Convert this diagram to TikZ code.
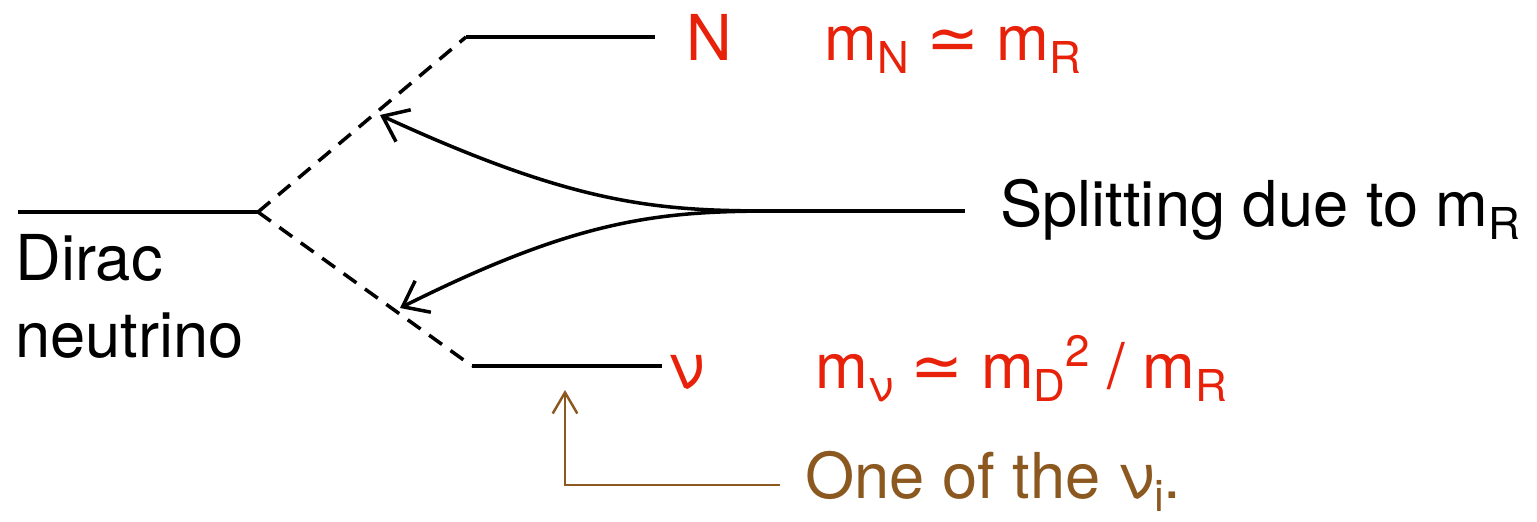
\documentclass[tikz,border=0pt]{standalone}
\usepackage{fontspec}
\setmainfont{TeX Gyre Heros}
\newfontfamily\symfont{DejaVu Sans}
\usetikzlibrary{arrows.meta}
\definecolor{myred}{RGB}{232,34,10}
\definecolor{mybrown}{RGB}{139,88,32}
\newcommand\lsub[1]{\raisebox{-7.5pt}{\fontsize{25}{25}\selectfont #1}}
\newcommand\lsup[1]{\raisebox{12pt}{\fontsize{25}{25}\selectfont #1}}
\newcommand\simeqsym{{\symfont ≃}}
\begin{document}
\begin{tikzpicture}[x=0.02cm,y=-0.02cm,
  lvl/.style={line width=2pt},
  split/.style={line width=2pt, dashed, dash pattern=on 9pt off 6pt},
  curvearrow/.style={line width=2pt,-{Straight Barb[length=13pt,width=20pt,line width=2pt]}},
  brownarrow/.style={line width=1.4pt,draw=mybrown,-{Straight Barb[length=12pt,width=14pt,line width=1.4pt]}},
  lab/.style={anchor=base west,inner sep=0pt,font=\fontsize{36}{42}\selectfont},
  redlab/.style={lab,text=myred},
  brownlab/.style={lab,text=mybrown}]
\useasboundingbox (0,0) rectangle (1537,521);
% level end points
\coordinate (d1) at (18,212);
\coordinate (d2) at (258,212);
\coordinate (n1) at (466,37);
\coordinate (n2) at (655,37);
\coordinate (v1) at (472,366);
\coordinate (v2) at (662,366);
\coordinate (s1) at (778,211);
\coordinate (s2) at (965,211);
\coordinate (a1) at (380,115);
\coordinate (a2) at (400,308);
\coordinate (b1) at (780,485);
\coordinate (b2) at (565,485);
\coordinate (b3) at (565,390);
% levels
\draw[lvl] (d1) -- (d2);
\draw[lvl] (n1) -- (n2);
\draw[lvl] (v1) -- (v2);
\draw[lvl] (s1) -- (s2);
% splitting
\draw[split] (d2) -- (n1);
\draw[split] (d2) -- (v1);
% arrows
\draw[curvearrow] (s1) .. controls (660,211) and (580,207) .. (a1);
\draw[curvearrow] (s1) .. controls (660,211) and (580,218) .. (a2);
\draw[brownarrow] (b1) -- (b2) -- (b3);
% labels
\node[lab] (dirac) at (15,280) {Dirac};
\node[lab] (neutrino) at (15,357) {neutrino};
\node[redlab] (N) at (686,60) {N};
\node[redlab] (mN) at (824,60) {m\lsub{N} \simeqsym\ m\lsub{R}};
\node[lab] (splitting) at (1000,226) {Splitting due to m\lsub{R}};
\node[redlab] (nu) at (668,388) {ν};
\node[redlab] (mnu) at (815,388) {m\lsub{ν} \simeqsym\ m\lsub{D}\lsup{2} / m\lsub{R}};
\node[brownlab] (one) at (805,498) {One of the ν\lsub{i}.};
\end{tikzpicture}
\end{document}
